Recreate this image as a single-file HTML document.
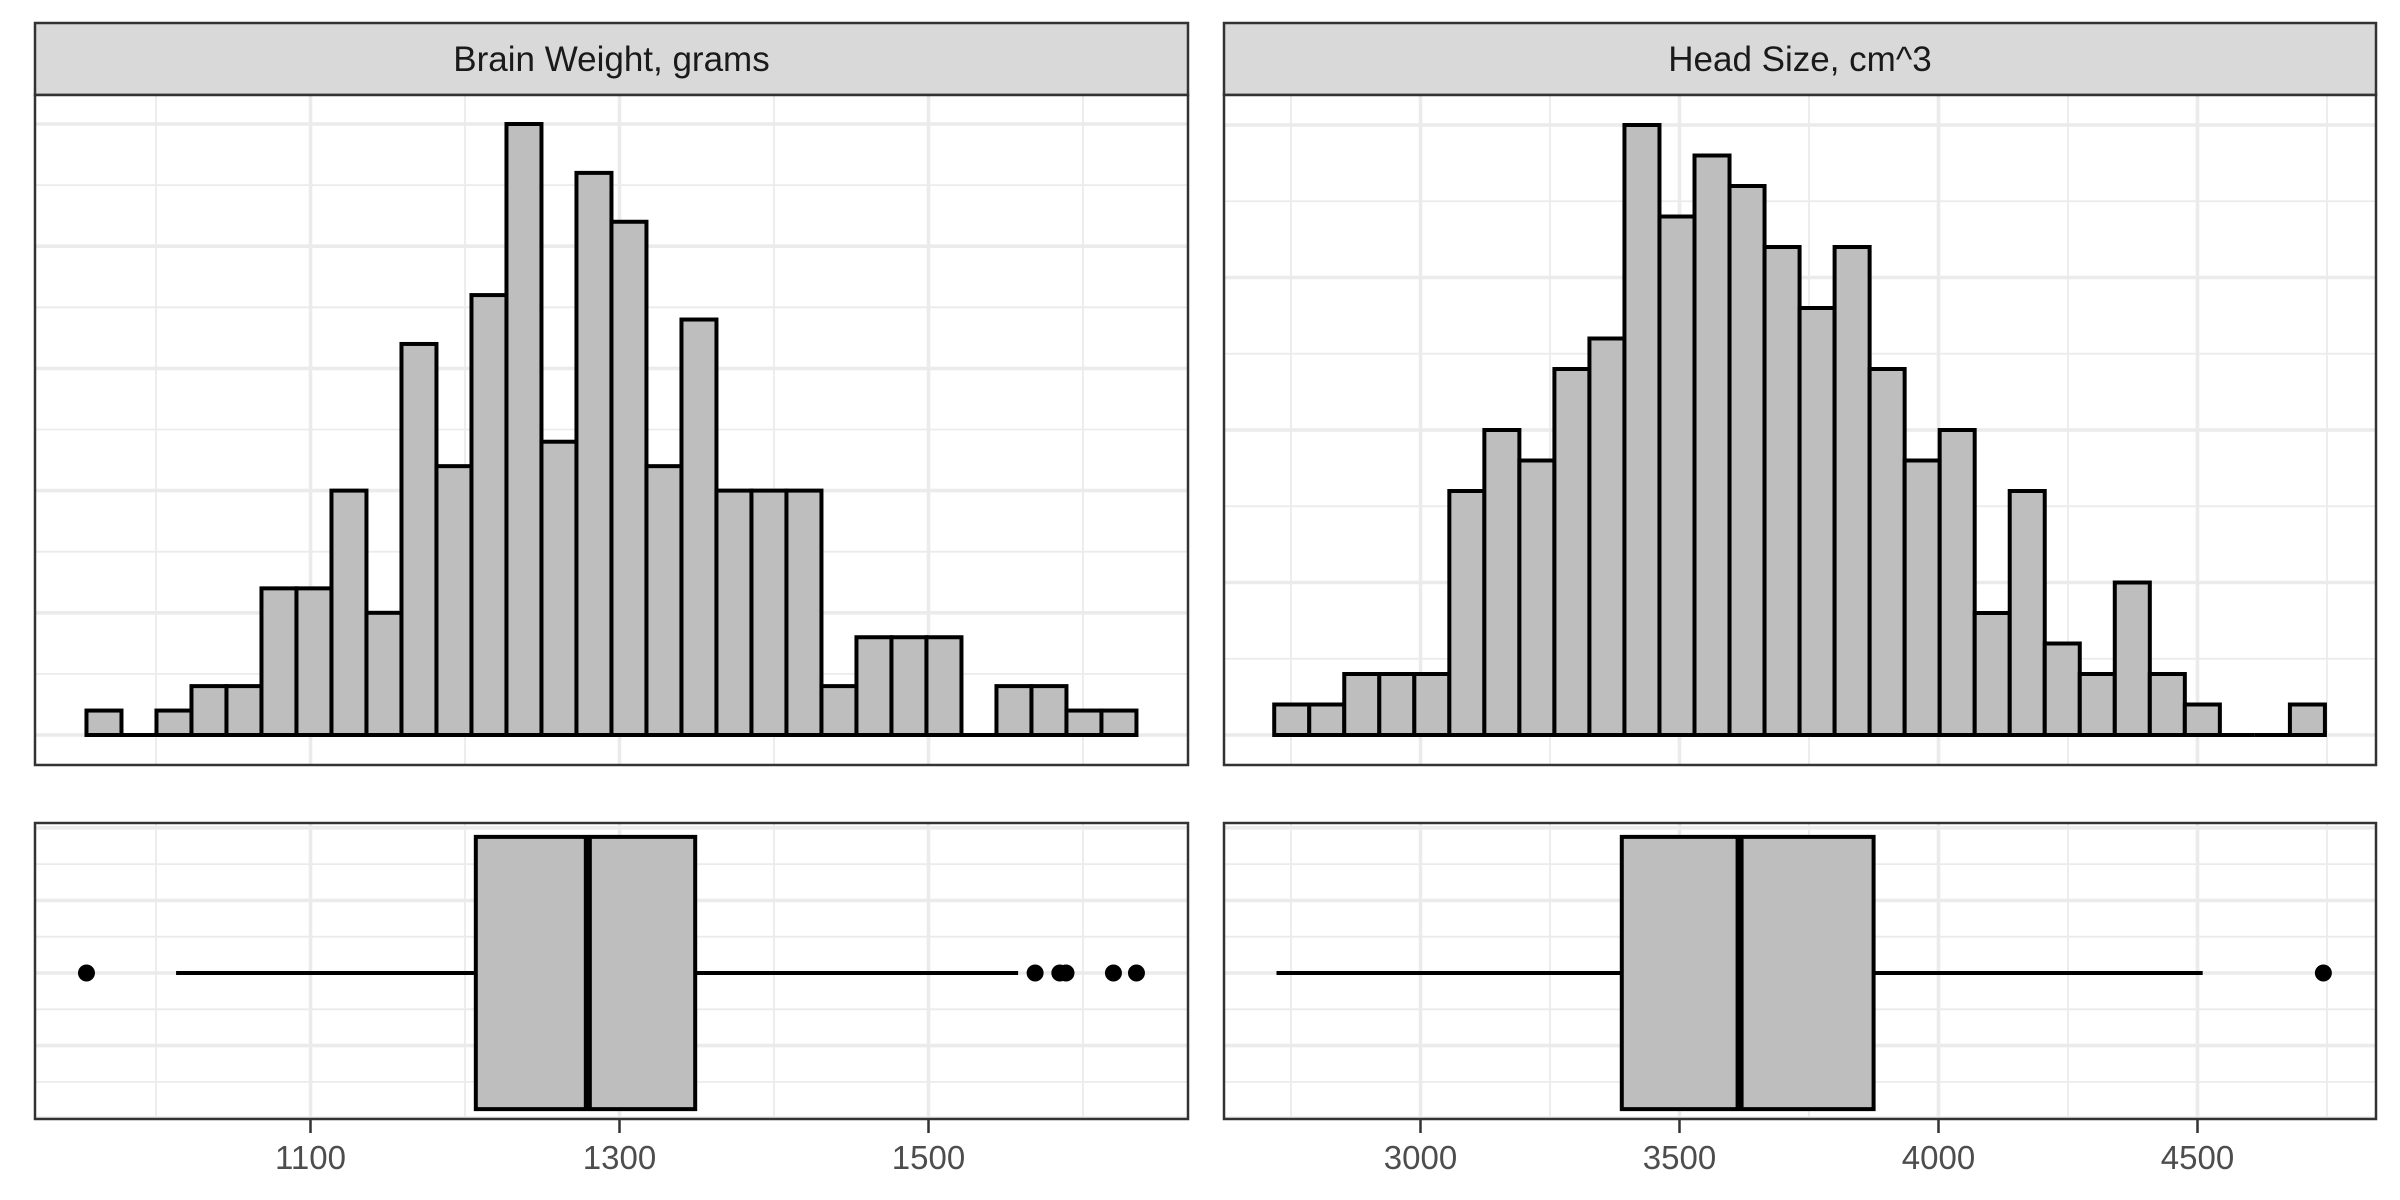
<!DOCTYPE html>
<html><head><meta charset="utf-8"><style>
html,body{margin:0;padding:0;background:#fff;}
svg{display:block;font-family:"Liberation Sans",sans-serif;}
</style></head><body>
<svg id="chart" width="2400" height="1200" viewBox="0 0 2400 1200" xmlns="http://www.w3.org/2000/svg"></svg>
<script>
// ---- data ----
const brainCounts = [1,0,1,2,2,6,6,10,5,16,11,18,25,12,23,21,11,17,10,10,10,2,4,4,4,0,2,2,1,1];
const brainRange = [955, 1634.6];
const headCounts = [1,1,2,2,2,8,10,9,12,13,20,17,19,18,16,14,16,12,9,10,4,8,3,2,5,2,1,0,0,1];
const headRange = [2717.6, 4746];
const brainBox = {q1:1207, med:1279.5, q3:1349, lo:1013, hi:1558};
const brainOutliers = [955,1569,1585,1589,1619.7,1634.6];
const headBox = {q1:3388.6, med:3616, q3:3874.7, lo:2722, hi:4510};
const headOutliers = [4743];
const brainTicks = [1100,1300,1500];
const brainMinor = [1000,1200,1400,1600];
const headTicks = [3000,3500,4000,4500];
const headMinor = [2750,3250,3750,4250,4750];
const brainYMajor = [0,5,10,15,20,25];
const brainYMinor = [2.5,7.5,12.5,17.5,22.5];
const headYMajor = [0,5,10,15,20];
const headYMinor = [2.5,7.5,12.5,17.5];
const boxYMajor = [-0.4,-0.2,0,0.2,0.4];
const boxYMinor = [-0.3,-0.1,0.1,0.3];

const NS="http://www.w3.org/2000/svg";
const svg=document.getElementById('chart');
function mk(tag,attrs,parent){const e=document.createElementNS(NS,tag);for(const k in attrs)e.setAttribute(k,attrs[k]);(parent||svg).appendChild(e);return e;}

function panel(cfg){
  const g=mk('g',{});
  
  
  const L=cfg.x0,R=cfg.x1;
  const xs=v=>cfg.px0+(v-cfg.v0)*cfg.k;
  const strip=mk('rect',{x:L,y:23,width:R-L,height:72,fill:'#D9D9D9',stroke:'#333',"stroke-width":2.5},g);
  
  
  const st=mk('text',{x:(L+R)/2,y:71,'text-anchor':'middle','font-size':35,fill:'#1A1A1A'},g);
  st.textContent=cfg.title;
  
  
  const hT=95,hB=765,base=735;
  const ys=c=>base-c*cfg.pc;
  mk('rect',{x:L,y:hT,width:R-L,height:hB-hT,fill:'#fff'},g);
  cfg.minor.forEach(v=>mk('line',{x1:xs(v),x2:xs(v),y1:hT,y2:hB,stroke:'#EBEBEB','stroke-width':1.8},g));
  cfg.ticks.forEach(v=>mk('line',{x1:xs(v),x2:xs(v),y1:hT,y2:hB,stroke:'#EBEBEB','stroke-width':3.6},g));
  cfg.yMinor.forEach(v=>mk('line',{x1:L,x2:R,y1:ys(v),y2:ys(v),stroke:'#EBEBEB','stroke-width':1.8},g));
  cfg.yMajor.forEach(v=>mk('line',{x1:L,x2:R,y1:ys(v),y2:ys(v),stroke:'#EBEBEB','stroke-width':3.6},g));
  const bw=(cfg.range[1]-cfg.range[0])/cfg.counts.length;
  cfg.counts.forEach((c,i)=>{
    const xa=xs(cfg.range[0]+i*bw),xb=xs(cfg.range[0]+(i+1)*bw);
    if(c===0){
      const z=mk('line',{x1:xa,x2:xb,y1:base,y2:base,stroke:'#000','stroke-width':4},g);
      
      
      return;
    }
    const r=mk('rect',{x:xa,y:ys(c),width:xb-xa,height:base-ys(c),fill:'#BEBEBE',stroke:'#000','stroke-width':4},g);
    
    
  });
  mk('rect',{x:L,y:hT,width:R-L,height:hB-hT,fill:'none',stroke:'#333','stroke-width':2.5},g);
  const bT=823,bB=1119,cy=973,u=363;
  const by=v=>cy-v*u;
  mk('rect',{x:L,y:bT,width:R-L,height:bB-bT,fill:'#fff'},g);
  cfg.minor.forEach(v=>mk('line',{x1:xs(v),x2:xs(v),y1:bT,y2:bB,stroke:'#EBEBEB','stroke-width':1.8},g));
  cfg.ticks.forEach(v=>mk('line',{x1:xs(v),x2:xs(v),y1:bT,y2:bB,stroke:'#EBEBEB','stroke-width':3.6},g));
  boxYMinor.forEach(v=>mk('line',{x1:L,x2:R,y1:by(v),y2:by(v),stroke:'#EBEBEB','stroke-width':1.8},g));
  boxYMajor.forEach(v=>mk('line',{x1:L,x2:R,y1:by(v),y2:by(v),stroke:'#EBEBEB','stroke-width':3.6},g));
  const b=cfg.box;
  mk('line',{x1:xs(b.lo),x2:xs(b.q1),y1:cy,y2:cy,stroke:'#000','stroke-width':4},g);
  mk('line',{x1:xs(b.q3),x2:xs(b.hi),y1:cy,y2:cy,stroke:'#000','stroke-width':4},g);
  const bx=mk('rect',{x:xs(b.q1),y:by(0.375),width:xs(b.q3)-xs(b.q1),height:by(-0.375)-by(0.375),fill:'#BEBEBE',stroke:'#000','stroke-width':4},g);
  
  
  const md=mk('line',{x1:xs(b.med),x2:xs(b.med),y1:by(0.375),y2:by(-0.375),stroke:'#000','stroke-width':8},g);
  
  
  cfg.outliers.forEach(v=>{
    const c=mk('circle',{cx:xs(v),cy:cy,r:8.5,fill:'#000'},g);
    
    
  });
  mk('rect',{x:L,y:bT,width:R-L,height:bB-bT,fill:'none',stroke:'#333','stroke-width':2.5},g);
  cfg.ticks.forEach(v=>{
    mk('line',{x1:xs(v),x2:xs(v),y1:bB,y2:bB+14,stroke:'#333','stroke-width':2.5},g);
    const t=mk('text',{x:xs(v),y:1169,'text-anchor':'middle','font-size':33,fill:'#4D4D4D'},g);
    t.textContent=v;
    
    
  });
}
panel({name:'brain-weight',title:'Brain Weight, grams',x0:35,x1:1188,px0:310.5,v0:1100,k:1.545,
  counts:brainCounts,range:brainRange,pc:24.44,yMajor:brainYMajor,yMinor:brainYMinor,
  ticks:brainTicks,minor:brainMinor,box:brainBox,outliers:brainOutliers});
panel({name:'head-size',title:'Head Size, cm^3',x0:1224,x1:2376,px0:1420.5,v0:3000,k:0.518,
  counts:headCounts,range:headRange,pc:30.5,yMajor:headYMajor,yMinor:headYMinor,
  ticks:headTicks,minor:headMinor,box:headBox,outliers:headOutliers});
</script>
</body></html>
